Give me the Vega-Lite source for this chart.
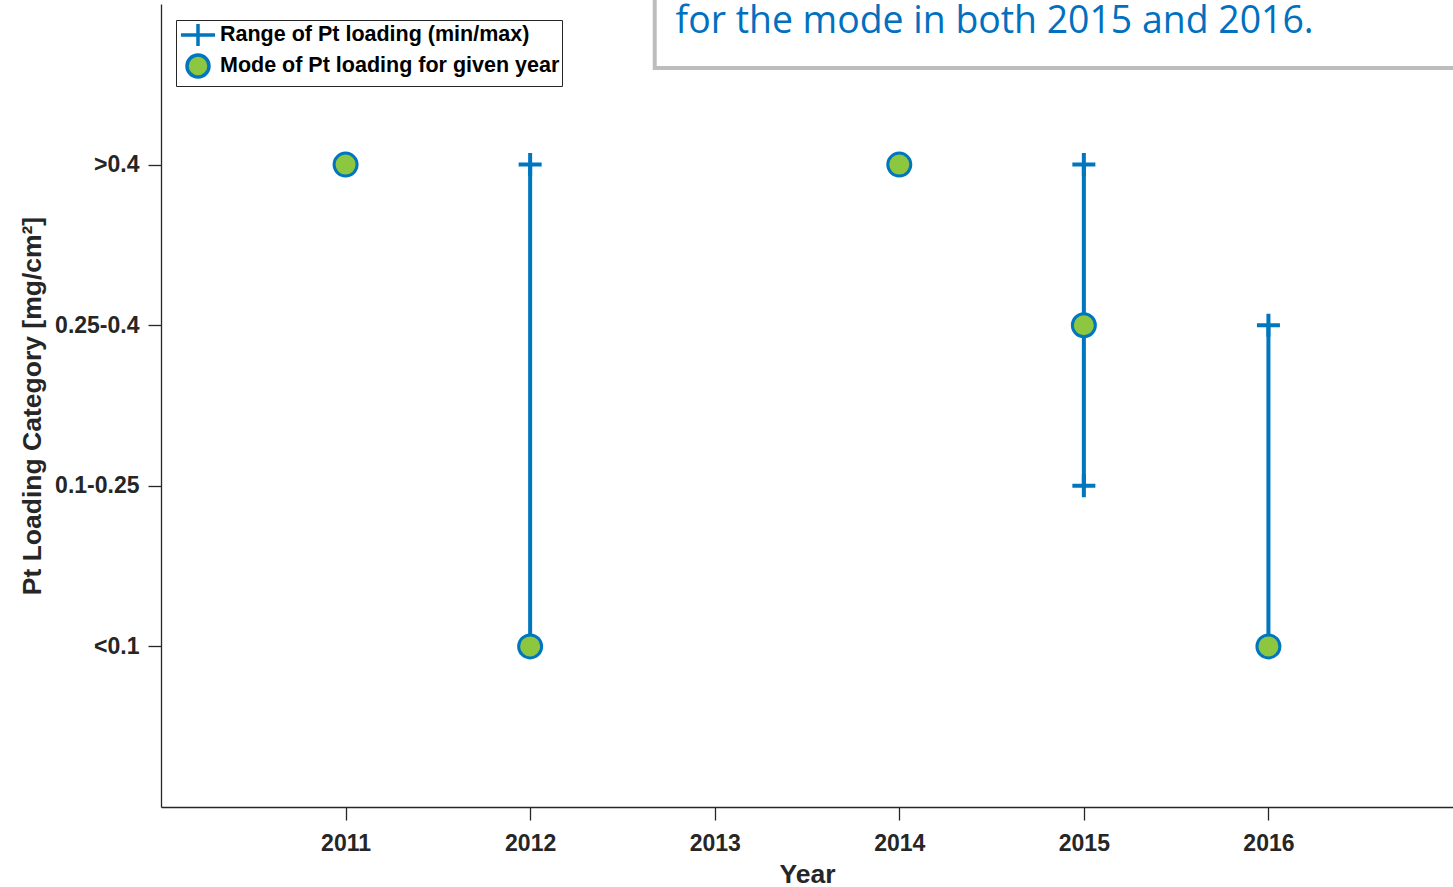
{
  "$schema": "https://vega.github.io/schema/vega-lite/v6.json",
  "width": 1292,
  "height": 803,
  "autosize": {"type": "none"},
  "padding": {"left": 161, "top": 4, "right": 0, "bottom": 80},
  "background": "white",
  "config": {
    "view": {"stroke": null},
    "font": "Liberation Sans",
    "axis": {
      "grid": false,
      "domainColor": "#262626",
      "domainWidth": 1.3,
      "tickColor": "#262626",
      "tickWidth": 1.3,
      "tickSize": 13,
      "labelFont": "Liberation Sans",
      "labelFontWeight": "bold",
      "labelFontSize": 23,
      "labelColor": "#262626",
      "titleFont": "Liberation Sans",
      "titleFontWeight": "bold",
      "titleFontSize": 26.5,
      "titleColor": "#262626"
    },
    "legend": {
      "title": null,
      "orient": "none",
      "legendX": 15,
      "legendY": 16,
      "padding": 2,
      "fillColor": "white",
      "strokeColor": "#262626",
      "symbolSize": 484,
      "symbolStrokeWidth": 3.5,
      "symbolOffset": 7,
      "labelOffset": 9,
      "labelLimit": 500,
      "rowPadding": -20,
      "labelFont": "Liberation Sans",
      "labelFontWeight": "bold",
      "labelFontSize": 21.5,
      "labelColor": "#000000"
    }
  },
  "datasets": {
    "loading": [
      {"year": 2011, "min": 4, "max": 4, "mode": 4},
      {"year": 2012, "min": 1, "max": 4, "mode": 1},
      {"year": 2014, "min": 4, "max": 4, "mode": 4},
      {"year": 2015, "min": 2, "max": 4, "mode": 3},
      {"year": 2016, "min": 1, "max": 3, "mode": 1}
    ]
  },
  "layer": [
    {
      "data": {"name": "loading"},
      "mark": {"type": "rule", "stroke": "#0076BF", "strokeWidth": 4},
      "encoding": {
        "x": {
          "field": "year",
          "type": "quantitative",
          "scale": {"domain": [2010, 2017], "nice": false, "zero": false},
          "axis": {
            "title": "Year",
            "values": [2011, 2012, 2013, 2014, 2015, 2016],
            "format": "d",
            "labelPadding": 12,
            "titlePadding": 6
          }
        },
        "y": {
          "field": "min",
          "type": "quantitative",
          "scale": {"domain": [0, 5], "nice": false, "zero": false},
          "axis": {
            "title": "Pt Loading Category [mg/cm²]",
            "values": [1, 2, 3, 4],
            "labelExpr": "datum.value == 4 ? '>0.4' : datum.value == 3 ? '0.25-0.4' : datum.value == 2 ? '0.1-0.25' : '<0.1'",
            "labelPadding": 9,
            "titlePadding": 8
          }
        },
        "y2": {"field": "max"}
      }
    },
    {
      "data": {"name": "loading"},
      "transform": [{"fold": ["min", "max"], "as": ["end", "level"]}],
      "mark": {"type": "point", "filled": false, "shape": "M-1,0H1M0,-1V1", "stroke": "#0076BF", "strokeWidth": 4, "size": 529, "opacity": 1},
      "encoding": {
        "x": {"field": "year", "type": "quantitative"},
        "y": {"field": "level", "type": "quantitative"}
      }
    },
    {
      "data": {"name": "loading"},
      "mark": {"type": "point", "filled": true, "size": 529, "strokeWidth": 3, "opacity": 1},
      "encoding": {
        "x": {"field": "year", "type": "quantitative"},
        "y": {"field": "mode", "type": "quantitative"},
        "fill": {
          "datum": "Mode of Pt loading for given year",
          "type": "nominal",
          "scale": {
            "domain": ["Range of Pt loading (min/max)", "Mode of Pt loading for given year"],
            "range": ["transparent", "#8DC63F"]
          }
        },
        "stroke": {
          "datum": "Mode of Pt loading for given year",
          "type": "nominal",
          "scale": {
            "domain": ["Range of Pt loading (min/max)", "Mode of Pt loading for given year"],
            "range": ["#0076BF", "#0076BF"]
          }
        },
        "shape": {
          "datum": "Mode of Pt loading for given year",
          "type": "nominal",
          "scale": {
            "domain": ["Range of Pt loading (min/max)", "Mode of Pt loading for given year"],
            "range": ["M-1.55,0H1.55M0,-1V1", "circle"]
          }
        }
      }
    },
    {
      "data": {"values": []},
      "mark": {"type": "point", "filled": true, "size": 484, "strokeWidth": 4, "opacity": 1},
      "encoding": {
        "fill": {"datum": "Range of Pt loading (min/max)", "type": "nominal"},
        "stroke": {"datum": "Range of Pt loading (min/max)", "type": "nominal"},
        "shape": {"datum": "Range of Pt loading (min/max)", "type": "nominal"}
      }
    },
    {
      "data": {"values": [{}]},
      "mark": {"type": "rect", "fill": "white", "stroke": "#BDBDBD", "strokeWidth": 4},
      "encoding": {
        "x": {"datum": 2012.675, "type": "quantitative"},
        "x2": {"datum": 2017.5},
        "y": {"datum": 4.601, "type": "quantitative"},
        "y2": {"datum": 5.3}
      }
    },
    {
      "data": {"values": [{}]},
      "mark": {"type": "text", "text": "for the mode in both 2015 and 2016.", "font": "Open Sans", "fontSize": 37.4, "color": "#0070C0", "align": "left", "baseline": "alphabetic"},
      "encoding": {
        "x": {"datum": 2012.788, "type": "quantitative"},
        "y": {"datum": 4.819, "type": "quantitative"}
      }
    }
  ]
}
